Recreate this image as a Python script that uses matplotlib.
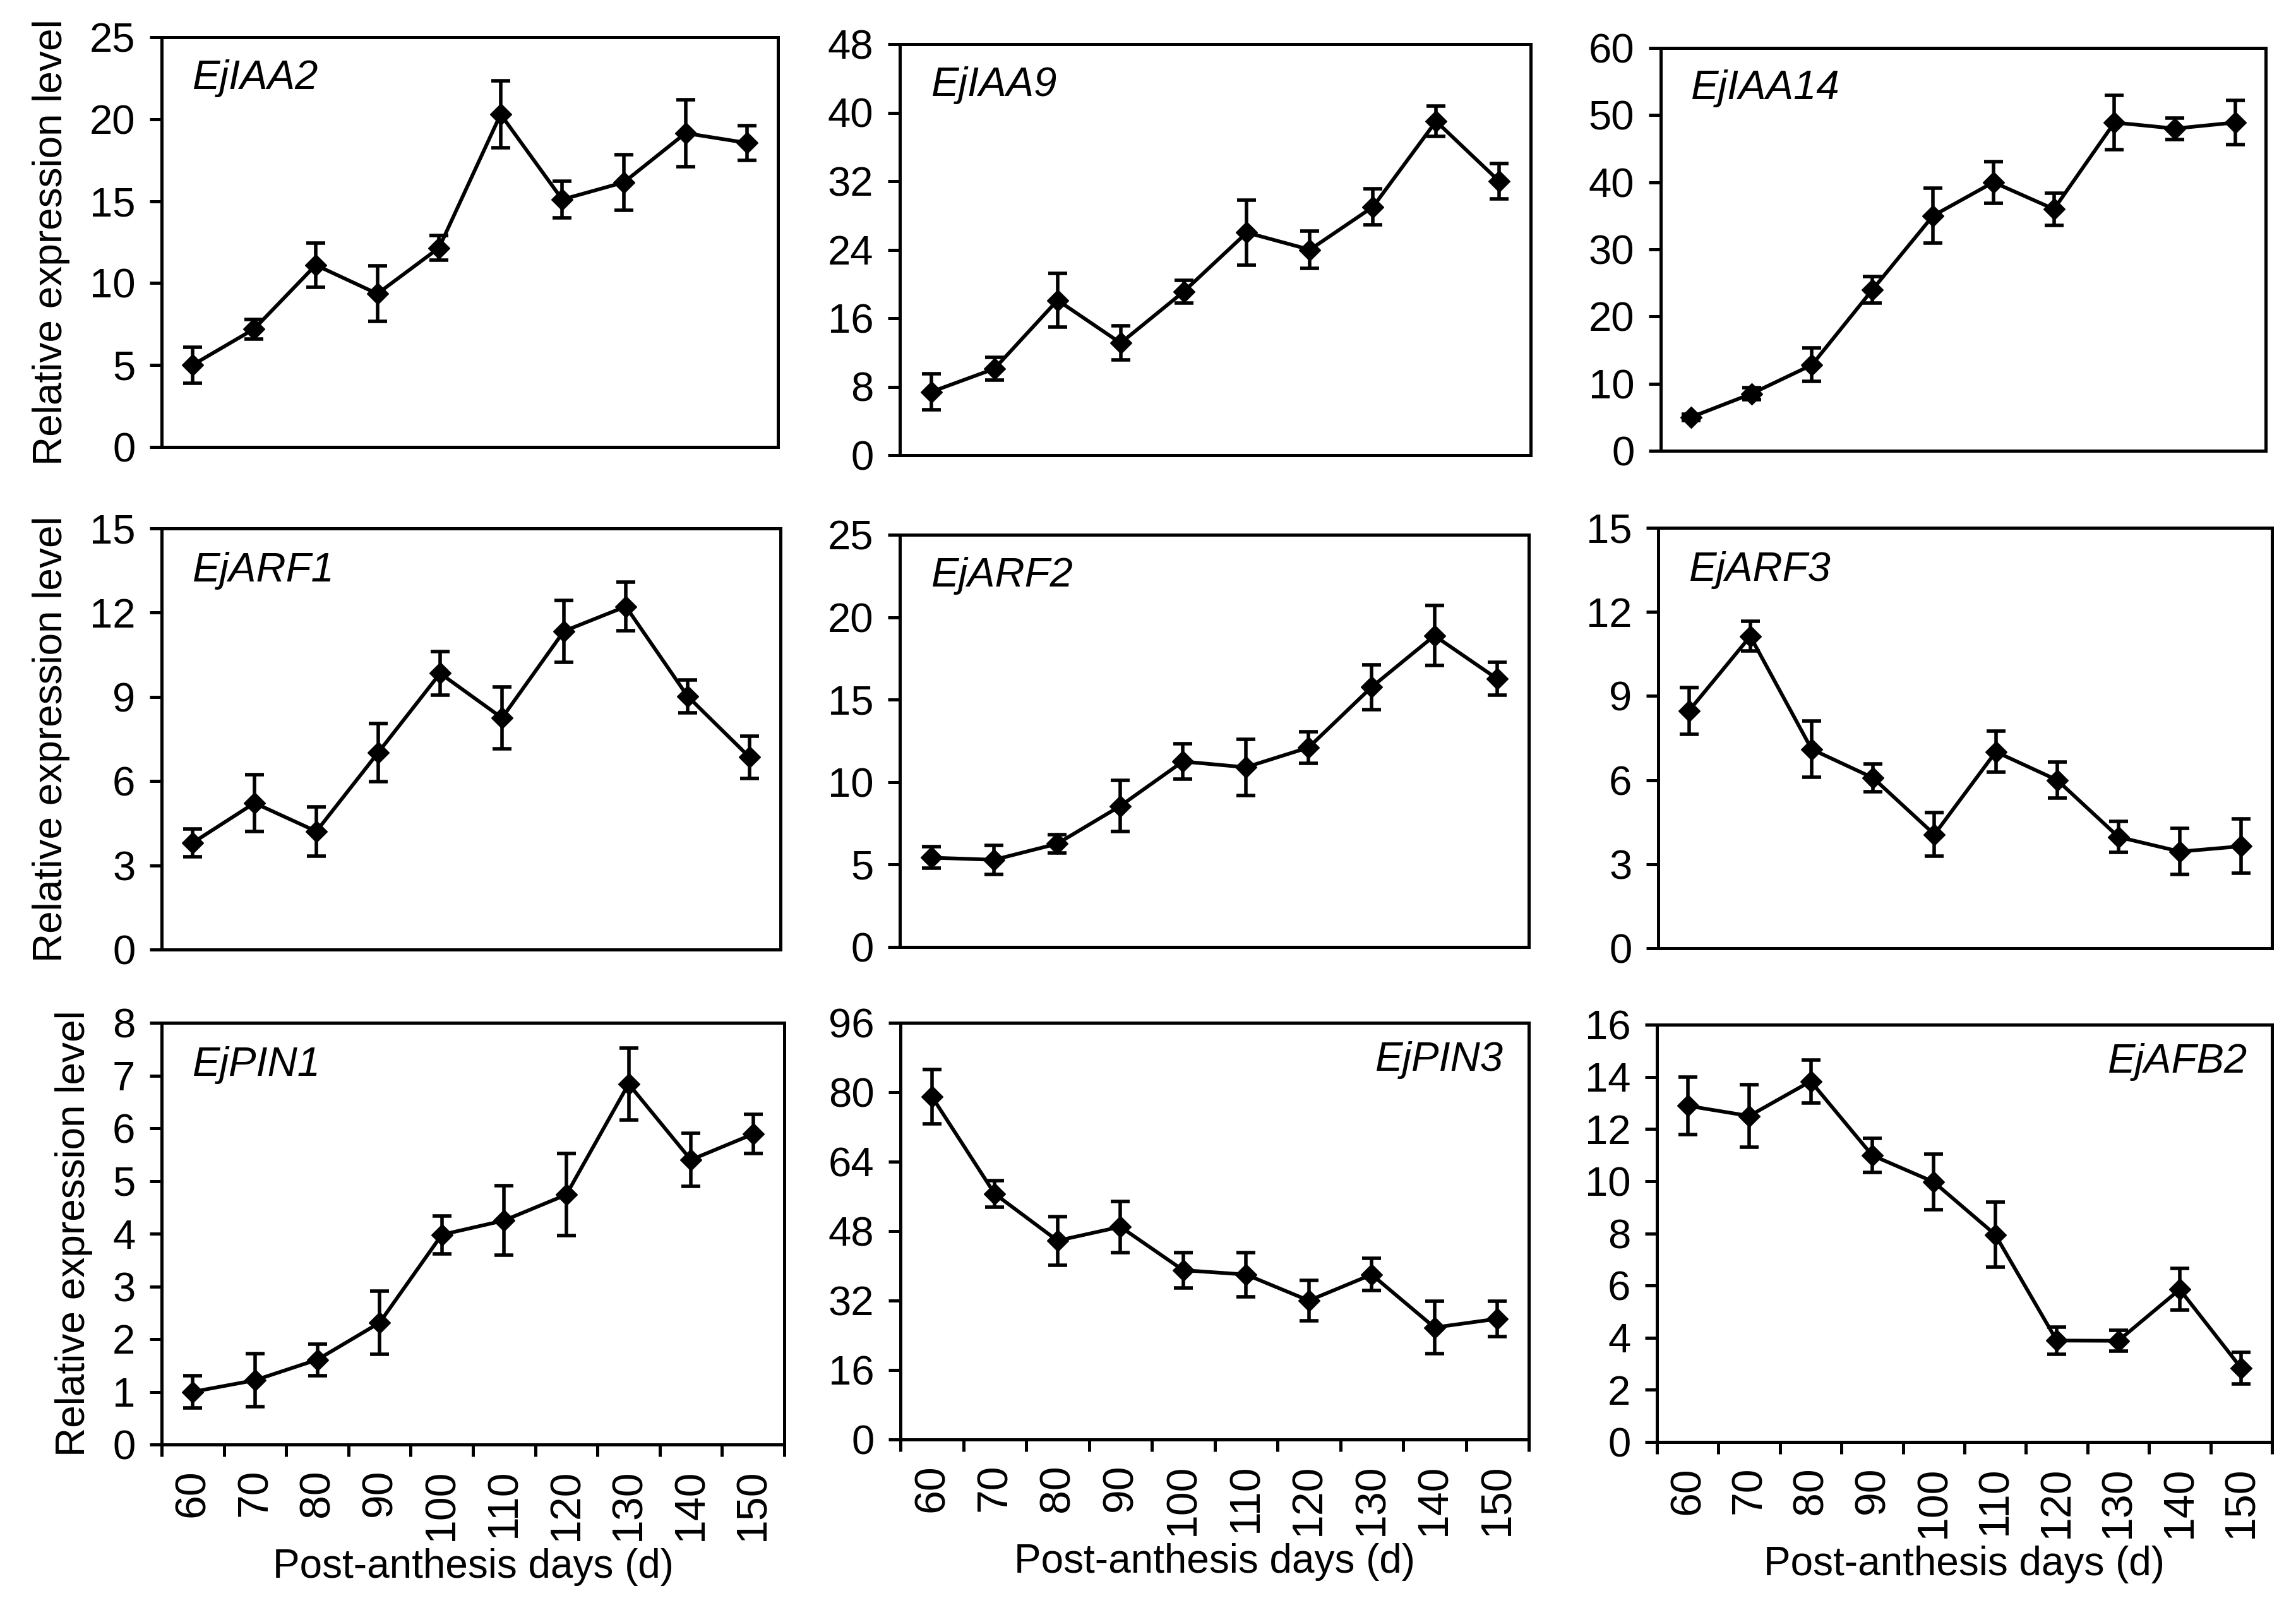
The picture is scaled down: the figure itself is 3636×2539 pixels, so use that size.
import matplotlib
matplotlib.use('Agg')
import matplotlib.pyplot as plt
import numpy as np

plt.rcParams['font.family'] = ['Liberation Sans', 'DejaVu Sans']

days = ['60', '70', '80', '90', '100', '110', '120', '130', '140', '150']

genes = ['EjIAA2', 'EjIAA9', 'EjIAA14',
         'EjARF1', 'EjARF2', 'EjARF3',
         'EjPIN1', 'EjPIN3', 'EjAFB2']

iaa2_mean = [5.0, 7.2, 11.1, 9.35, 12.15, 20.3, 15.1, 16.15, 19.15, 18.55]
iaa2_err = [1.1, 0.6, 1.35, 1.7, 0.75, 2.05, 1.1, 1.7, 2.05, 1.05]

iaa9_mean = [7.4, 10.1, 18.1, 13.1, 19.1, 26.0, 24.0, 29.0, 39.0, 32.0]
iaa9_err = [2.1, 1.3, 3.1, 2.0, 1.35, 3.8, 2.15, 2.1, 1.8, 2.1]

iaa14_mean = [5.0, 8.5, 12.8, 24.0, 35.0, 40.0, 36.0, 48.9, 48.0, 48.9]
iaa14_err = [0.5, 0.9, 2.5, 2.0, 4.1, 3.1, 2.4, 4.0, 1.6, 3.3]

arf1_mean = [3.8, 5.22, 4.21, 7.02, 9.84, 8.25, 11.34, 12.22, 9.02, 6.85]
arf1_err = [0.5, 1.02, 0.88, 1.04, 0.78, 1.1, 1.1, 0.87, 0.58, 0.75]

arf2_mean = [5.42, 5.29, 6.26, 8.54, 11.25, 10.9, 12.1, 15.76, 18.88, 16.26]
arf2_err = [0.65, 0.87, 0.55, 1.55, 1.07, 1.7, 0.96, 1.37, 1.82, 1.0]

arf3_mean = [8.47, 11.13, 7.1, 6.08, 4.06, 7.01, 6.0, 3.97, 3.45, 3.64]
arf3_err = [0.84, 0.53, 1.0, 0.5, 0.78, 0.73, 0.64, 0.55, 0.82, 0.97]

pin1_mean = [1.0, 1.22, 1.61, 2.31, 3.98, 4.25, 4.74, 6.84, 5.4, 5.89]
pin1_err = [0.3, 0.5, 0.3, 0.6, 0.36, 0.66, 0.78, 0.68, 0.5, 0.37]

pin3_mean = [79.0, 56.6, 45.8, 49.0, 39.0, 38.0, 32.0, 38.0, 25.8, 27.8]
pin3_err = [6.3, 3.1, 5.6, 5.9, 4.1, 5.1, 4.6, 3.7, 6.0, 4.1]

afb2_mean = [12.89, 12.5, 13.83, 10.99, 9.97, 7.95, 3.89, 3.88, 5.85, 2.83]
afb2_err = [1.1, 1.2, 0.82, 0.66, 1.06, 1.25, 0.52, 0.4, 0.8, 0.6]

means = [iaa2_mean, iaa9_mean, iaa14_mean, arf1_mean, arf2_mean, arf3_mean,
         pin1_mean, pin3_mean, afb2_mean]
errs = [iaa2_err, iaa9_err, iaa14_err, arf1_err, arf2_err, arf3_err,
        pin1_err, pin3_err, afb2_err]

y_max = [25, 48, 60, 15, 25, 15, 8, 96, 16]
y_step = [5, 8, 10, 3, 5, 3, 1, 16, 2]

ylabel = 'Relative expression level'
xlabel = 'Post-anthesis days (d)'

W, H = 3637, 2539
# panel boxes in pixels: left, top, right, bottom
boxes = [
    (256, 59, 1232, 708), (1425, 70, 2424, 721), (2630, 76, 3588, 714),
    (256, 837, 1236, 1504), (1425, 847, 2421, 1500), (2626, 836, 3598, 1502),
    (256, 1620, 1242, 2288), (1426, 1620, 2421, 2280), (2624, 1623, 3598, 2284),
]
label_right = [False, False, False, False, False, False, False, True, True]

fig = plt.figure(figsize=(W / 100, H / 100), dpi=100)

x = np.arange(1, len(days) + 1)

for i in range(9):
    l, t, r, b = boxes[i]
    ax = fig.add_axes([l / W, 1 - b / H, (r - l) / W, (b - t) / H])
    ax.errorbar(x, means[i], yerr=errs[i], fmt='-D', color='black',
                markersize=17, linewidth=4.2, elinewidth=4.0,
                capsize=11, capthick=4.0, clip_on=False)
    ax.set_xlim(0.5, len(days) + 0.5)
    ax.set_ylim(0, y_max[i])
    ax.set_yticks(np.arange(0, y_max[i] + 0.01, y_step[i]))
    for sp in ax.spines.values():
        sp.set_linewidth(3.6)
    ax.tick_params(axis='y', direction='out', length=14, width=3.6,
                   labelsize=47, pad=16)
    row = i // 3
    if row == 2:
        ax.set_xticks(x)
        ax.set_xticklabels(days, rotation=90, fontsize=49)
        ax.set_xticks(np.arange(0.5, len(days) + 1, 1.0), minor=True)
        ax.tick_params(axis='x', which='major', length=0, pad=28)
        ax.tick_params(axis='x', which='minor', direction='out',
                       length=14, width=3.6)
        ax.set_xlabel(xlabel, fontsize=46, labelpad=8)
    else:
        ax.set_xticks([])
    if i % 3 == 0:
        ax.set_ylabel(ylabel, fontsize=46, labelpad=22)
    if label_right[i]:
        ax.text(0.96, 0.91, genes[i], transform=ax.transAxes, fontsize=47,
                style='italic', ha='right', va='center')
    else:
        ax.text(0.05, 0.9, genes[i], transform=ax.transAxes, fontsize=47,
                style='italic', ha='left', va='center')

fig.savefig('out.png', dpi=100, facecolor='white')
